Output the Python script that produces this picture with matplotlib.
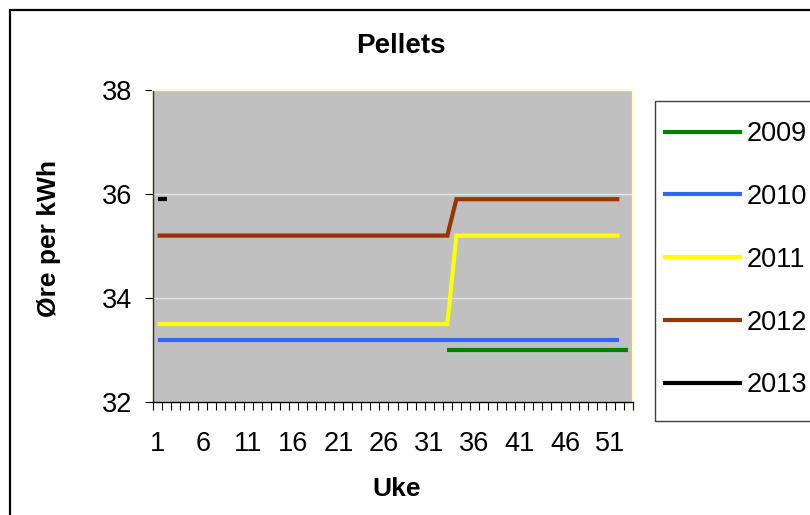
import numpy as np
import matplotlib
matplotlib.use("Agg")
import matplotlib.pyplot as plt
from matplotlib.patches import Rectangle

plt.rcParams['font.family'] = ['Liberation Sans', 'DejaVu Sans']

# Weekly pellet prices (øre per kWh), weeks 1..53; None = no data
weeks = list(range(1, 54))
N = None
p2009 = [N, N, N, N, N, N, N, N, N, N, N, N, N, N, N, N, N, N, N, N,
         N, N, N, N, N, N, N, N, N, N, N, N,
         33.0, 33.0, 33.0, 33.0, 33.0, 33.0, 33.0, 33.0, 33.0, 33.0,
         33.0, 33.0, 33.0, 33.0, 33.0, 33.0, 33.0, 33.0, 33.0, 33.0, 33.0]
p2010 = [33.2, 33.2, 33.2, 33.2, 33.2, 33.2, 33.2, 33.2, 33.2, 33.2,
         33.2, 33.2, 33.2, 33.2, 33.2, 33.2, 33.2, 33.2, 33.2, 33.2,
         33.2, 33.2, 33.2, 33.2, 33.2, 33.2, 33.2, 33.2, 33.2, 33.2,
         33.2, 33.2, 33.2, 33.2, 33.2, 33.2, 33.2, 33.2, 33.2, 33.2,
         33.2, 33.2, 33.2, 33.2, 33.2, 33.2, 33.2, 33.2, 33.2, 33.2,
         33.2, 33.2, N]
p2011 = [33.5, 33.5, 33.5, 33.5, 33.5, 33.5, 33.5, 33.5, 33.5, 33.5,
         33.5, 33.5, 33.5, 33.5, 33.5, 33.5, 33.5, 33.5, 33.5, 33.5,
         33.5, 33.5, 33.5, 33.5, 33.5, 33.5, 33.5, 33.5, 33.5, 33.5,
         33.5, 33.5, 33.5,
         35.2, 35.2, 35.2, 35.2, 35.2, 35.2, 35.2, 35.2, 35.2, 35.2,
         35.2, 35.2, 35.2, 35.2, 35.2, 35.2, 35.2, 35.2, 35.2, N]
p2012 = [35.2, 35.2, 35.2, 35.2, 35.2, 35.2, 35.2, 35.2, 35.2, 35.2,
         35.2, 35.2, 35.2, 35.2, 35.2, 35.2, 35.2, 35.2, 35.2, 35.2,
         35.2, 35.2, 35.2, 35.2, 35.2, 35.2, 35.2, 35.2, 35.2, 35.2,
         35.2, 35.2, 35.2,
         35.9, 35.9, 35.9, 35.9, 35.9, 35.9, 35.9, 35.9, 35.9, 35.9,
         35.9, 35.9, 35.9, 35.9, 35.9, 35.9, 35.9, 35.9, 35.9, N]
p2013 = [35.9, 35.9] + [N] * 51

series_labels = ['2009', '2010', '2011', '2012', '2013']
series_values = [p2009, p2010, p2011, p2012, p2013]
series_colors = ['#008000', '#3366FF', '#FFFF00', '#993300', '#000000']

week_labels = [1, 6, 11, 16, 21, 26, 31, 36, 41, 46, 51]
y_ticks = [32, 34, 36, 38]

W, H = 810, 515
fig = plt.figure(figsize=(W / 100, H / 100), dpi=100)
fig.patch.set_facecolor('white')

# outer chart border
fig.add_artist(Rectangle((10 / W, -0.2), 1.2, 1.2 - 10 / H,
                         transform=fig.transFigure, fill=False,
                         edgecolor='black', linewidth=1.6, zorder=0))

left, right, top, bottom = 153, 633, 90, 402
ax = fig.add_axes([left / W, 1 - bottom / H, (right - left) / W, (bottom - top) / H])
ax.set_facecolor('#C0C0C0')

handles = []
for vals, lab, col in zip(series_values, series_labels, series_colors):
    y = np.array([np.nan if v is None else v for v in vals], dtype=float)
    ln, = ax.plot(weeks, y, color=col, lw=3.0, label=lab,
                  solid_capstyle='butt', solid_joinstyle='miter', zorder=3)
    handles.append(ln)

ax.set_xlim(0.5, len(weeks) + 0.5)
ax.set_ylim(32, 38)

# y axis
ax.set_yticks(y_ticks)
ax.tick_params(axis='y', direction='out', length=6, width=0.8, pad=9,
               labelsize=19.5, colors='black')
ax.grid(axis='y', color='#E4E4E4', lw=1.0, zorder=1)
ax.set_axisbelow(True)

# x axis: ticks at category boundaries, labels at category centres
ax.set_xticks(np.arange(0.5, len(weeks) + 1.0, 1.0))
ax.set_xticklabels([])
ax.tick_params(axis='x', which='major', direction='out', length=6, width=0.8)
ax.set_xticks(week_labels, minor=True)
ax.set_xticklabels([str(w) for w in week_labels], minor=True)
ax.tick_params(axis='x', which='minor', length=0, pad=21, labelsize=19.5)

for s in ['top', 'right']:
    ax.spines[s].set_color('#FFFFC8')
    ax.spines[s].set_linewidth(1.6)
ax.spines['left'].set_color('#303020')
ax.spines['left'].set_linewidth(1.0)
ax.spines['bottom'].set_color('black')
ax.spines['bottom'].set_linewidth(1.0)

fig.text(401 / W, 1 - 46 / H, 'Pellets', ha='center', va='center',
         fontsize=20, fontweight='bold')
fig.text(397 / W, 1 - 489 / H, 'Uke', ha='center', va='center',
         fontsize=19, fontweight='bold')
fig.text(49 / W, 1 - 238 / H, 'Øre per kWh', ha='center', va='center',
         rotation=90, fontsize=19, fontweight='bold')

# legend box (frame drawn separately so it can run past the right edge)
lg_l, lg_t, lg_b = 655, 101, 421
fig.add_artist(Rectangle((lg_l / W, 1 - lg_b / H), 0.5, (lg_b - lg_t) / H,
                         transform=fig.transFigure, facecolor='white',
                         edgecolor='#404040', linewidth=1.0, zorder=4))
leg = fig.legend(handles=handles, labels=series_labels, loc='upper left',
                 bbox_to_anchor=(lg_l / W, 1 - (lg_t + 12) / H),
                 bbox_transform=fig.transFigure, borderaxespad=0,
                 frameon=False, fontsize=19.5, handlelength=2.9,
                 handletextpad=0.2, labelspacing=1.36, borderpad=0.3)
leg.set_zorder(5)
for h in leg.get_lines():
    h.set_linewidth(3.0)
    h.set_solid_capstyle('butt')

fig.savefig('out.png', dpi=100, facecolor='white')
